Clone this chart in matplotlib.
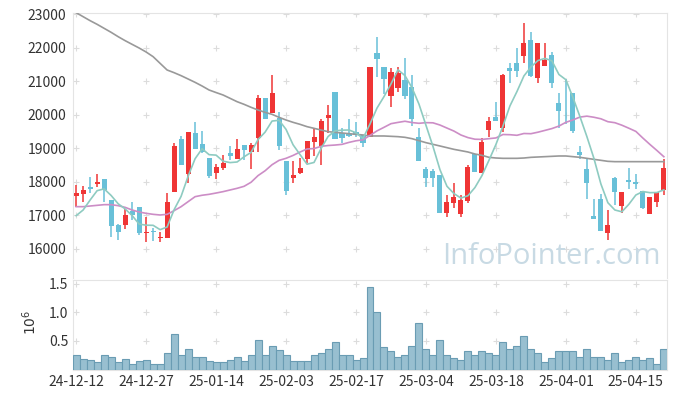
import numpy as np
import pandas as pd
import matplotlib
matplotlib.use('Agg')
import matplotlib.pyplot as plt

plt.rcParams['font.family'] = ['Noto Sans CJK KR', 'DejaVu Sans']

# x tick labels (every 10 trading days)
tick_labels = ['24-12-12', '24-12-27', '25-01-14', '25-02-03', '25-02-17',
               '25-03-04', '25-03-18', '25-04-01', '25-04-15']

# daily OHLC
opens = [17588, 17648, 17846, 17936, 18085, 17459, 16714, 16714, 17141, 17240,
         16466, 16516, 16317, 16317, 17707, 19276, 18224, 19455, 19127, 18720,
         18254, 18422, 18859, 18690, 19098, 18899, 19296, 20488, 20041, 19892,
         18611, 18124, 18273, 18690, 19197, 19078, 19912, 20676, 19445, 19425,
         19485, 19405, 19346, 21848, 21431, 20557, 20786, 21034, 20815, 19336,
         18373, 18313, 18214, 17082, 17379, 17032, 17429, 18829, 18273, 19544,
         19942, 19594, 21391, 21530, 21749, 22225, 21103, 21461, 21778, 20358,
         20388, 20637, 18889, 18373, 16982, 17479, 16486, 18105, 17290, 18055,
         17985, 17737, 17032, 17409, 17757]
highs = [17906, 17886, 18134, 18234, 18085, 17459, 16734, 17181, 17389, 17240,
         16943, 16635, 16496, 17677, 19167, 19376, 19475, 19783, 19515, 18720,
         18522, 18789, 19058, 19266, 19098, 19147, 20587, 20488, 21173, 20071,
         18611, 18630, 18700, 19207, 19564, 19872, 20279, 20676, 19594, 19872,
         19773, 19405, 21421, 22305, 21431, 21381, 21411, 21679, 21183, 19594,
         18432, 18382, 18214, 17608, 17955, 17608, 18502, 18829, 19296, 19942,
         20368, 21212, 21530, 21977, 22722, 22454, 22146, 22126, 21858, 20657,
         21054, 20637, 19078, 18700, 17479, 17638, 17161, 18154, 17688, 18422,
         18224, 17737, 17538, 17707, 18670]
lows = [17260, 17409, 17658, 17856, 17409, 16367, 16267, 16605, 16863, 16416,
        16198, 16248, 16198, 16317, 17707, 18511, 17975, 18988, 18849, 18104,
        18085, 18353, 18651, 18690, 18651, 18373, 18899, 19872, 20041, 18948,
        17608, 17955, 18234, 18551, 18770, 18502, 19465, 19267, 19147, 19326,
        19326, 19028, 19346, 21113, 20617, 20220, 20686, 20468, 19663, 18631,
        17856, 17836, 17062, 16943, 17211, 16943, 17359, 18303, 18273, 19346,
        19822, 19495, 20954, 21113, 21530, 21113, 20935, 21461, 20786, 19594,
        19713, 19445, 18680, 17479, 16883, 16545, 16267, 17310, 17062, 17786,
        17777, 17181, 17032, 17260, 17608]
closes = [17668, 17747, 17787, 17995, 17757, 16684, 16516, 17012, 17012, 16486,
          16516, 16496, 16367, 17399, 19068, 18511, 19475, 18988, 18889, 18184,
          18442, 18571, 18780, 18978, 18958, 19098, 20488, 19872, 20637, 19078,
          17737, 18204, 18402, 19207, 19336, 19803, 19991, 19267, 19296, 19366,
          19385, 19147, 21421, 21669, 21074, 21272, 21252, 20557, 19862, 18631,
          18124, 18104, 17082, 17399, 17538, 17459, 18452, 18303, 19177, 19813,
          19822, 21183, 21312, 21312, 22146, 21153, 22146, 21630, 20954, 20111,
          20368, 19515, 18789, 17956, 16883, 16545, 16714, 17707, 17688, 18005,
          17926, 17230, 17538, 17707, 18402]

# volume, in millions
volume = [0.246, 0.181, 0.164, 0.123, 0.246, 0.228, 0.123, 0.181, 0.105, 0.146,
          0.164, 0.088, 0.088, 0.298, 0.614, 0.263, 0.351, 0.228, 0.228, 0.146,
          0.140, 0.123, 0.164, 0.228, 0.146, 0.263, 0.526, 0.246, 0.404, 0.339,
          0.263, 0.146, 0.146, 0.146, 0.246, 0.281, 0.351, 0.491, 0.263, 0.263,
          0.170, 0.193, 1.439, 1.000, 0.386, 0.333, 0.211, 0.246, 0.404, 0.807,
          0.351, 0.263, 0.526, 0.263, 0.193, 0.175, 0.316, 0.246, 0.333, 0.298,
          0.263, 0.491, 0.351, 0.404, 0.579, 0.351, 0.281, 0.140, 0.193, 0.333,
          0.316, 0.316, 0.228, 0.368, 0.228, 0.228, 0.175, 0.281, 0.140, 0.175,
          0.228, 0.175, 0.193, 0.088, 0.351]

# moving averages: the first points depend on days before the window,
# so they are read off the chart
ma5_head = [16992, 17161, 17459, 17737]
ma20_head = [17260, 17260, 17280, 17300, 17320, 17320, 17290, 17240, 17161, 17101,
             17062, 17032, 17012, 17032, 17141, 17260, 17409, 17558, 17600]
ma_long = [23040, 22920, 22801, 22692, 22573, 22454, 22325, 22206, 22096, 21987,
           21868, 21729, 21530, 21332, 21252, 21163, 21064, 20964, 20855, 20736,
           20660, 20587, 20488, 20388, 20309, 20220, 20140, 20071, 20011, 19922,
           19842, 19773, 19713, 19644, 19594, 19544, 19495, 19475, 19455, 19435,
           19415, 19396, 19366, 19366, 19366, 19356, 19346, 19326, 19286, 19227,
           19167, 19117, 19068, 19018, 18968, 18929, 18889, 18829, 18790, 18730,
           18710, 18700, 18700, 18700, 18710, 18730, 18740, 18750, 18760, 18770,
           18770, 18750, 18730, 18700, 18670, 18641, 18611, 18601, 18601, 18601,
           18601, 18601, 18601, 18601, 18601]

n = len(closes)
x = np.arange(n)
o = np.array(opens)
c = np.array(closes)
up = c >= o

ma5 = pd.Series(closes).rolling(5).mean().to_numpy()
ma5[:4] = ma5_head
ma20 = pd.Series(closes).rolling(20).mean().to_numpy()
ma20[:19] = ma20_head

RED = '#ef3535'
BLUE = '#68c0d8'
GRID = '#dcdcdc'
SPINE = '#e4e4e4'

fig = plt.figure(figsize=(6.77, 3.98), dpi=100)
W, H = 677, 398
ax = fig.add_axes([73 / W, 1 - 278 / H, 594 / W, 265 / H])
axv = fig.add_axes([73 / W, 1 - 369.5 / H, 594 / W, 89.5 / H])

# price
colors = np.where(up, RED, BLUE)
ax.vlines(x, lows, highs, colors=colors, linewidth=1.1, zorder=3)
body_lo = np.minimum(o, c)
body_h = np.maximum(np.abs(c - o), 25)
ax.bar(x, body_h, bottom=body_lo, width=0.72, color=colors, linewidth=0, zorder=4)

ax.plot(x, ma_long, color='#999999', linewidth=1.2, zorder=5)
ax.plot(x, ma20, color='#cc8dc6', linewidth=1.2, zorder=5)
ax.plot(x, ma5, color='#8ecbc1', linewidth=1.2, zorder=5)

xt = np.arange(0, n, 10)
yt = np.arange(16000, 23001, 1000)
gx, gy = np.meshgrid(xt, yt)
ax.scatter(gx.ravel(), gy.ravel(), marker='+', s=14, color=GRID, linewidths=0.8, zorder=1)

ax.set_xlim(-0.45, n - 0.55)
ax.set_ylim(15135, 23030)
ax.set_yticks(yt)
ax.set_yticklabels([str(v) for v in yt])
ax.set_xticks([])
ax.tick_params(axis='y', length=0, pad=5, labelsize=10, labelcolor='#333333')
for s in ['left', 'top', 'right']:
    ax.spines[s].set_color(SPINE)
ax.spines['bottom'].set_visible(False)

# volume
axv.bar(x, volume, width=1.0, color='#98bfd0', edgecolor='#6a9cb3', linewidth=0.8, zorder=3)
vt = [0.5, 1.0, 1.5]
gx, gy = np.meshgrid(xt, vt)
axv.scatter(gx.ravel(), gy.ravel(), marker='+', s=14, color=GRID, linewidths=0.8, zorder=1)
axv.set_xlim(-0.45, n - 0.55)
axv.set_ylim(0, 1.57)
axv.set_yticks(vt)
axv.set_yticklabels(['0.5', '1.0', '1.5'])
axv.set_xticks(xt)
axv.set_xticklabels(tick_labels)
axv.tick_params(length=0, labelsize=10, labelcolor='#333333')
axv.tick_params(axis='x', pad=4)
for s in ['left', 'top', 'right', 'bottom']:
    axv.spines[s].set_color(SPINE)

fig.text(30 / W, 1 - 322 / H, r'$10^{6}$', rotation=90, ha='center', va='center',
         fontsize=10, color='#333333')

fig.text(551 / W, 1 - 257 / H, 'InfoPointer.com', ha='center', va='center',
         fontsize=21, color='#c8dae4', family='Open Sans', zorder=0)

fig.savefig('out.png', dpi=100)
